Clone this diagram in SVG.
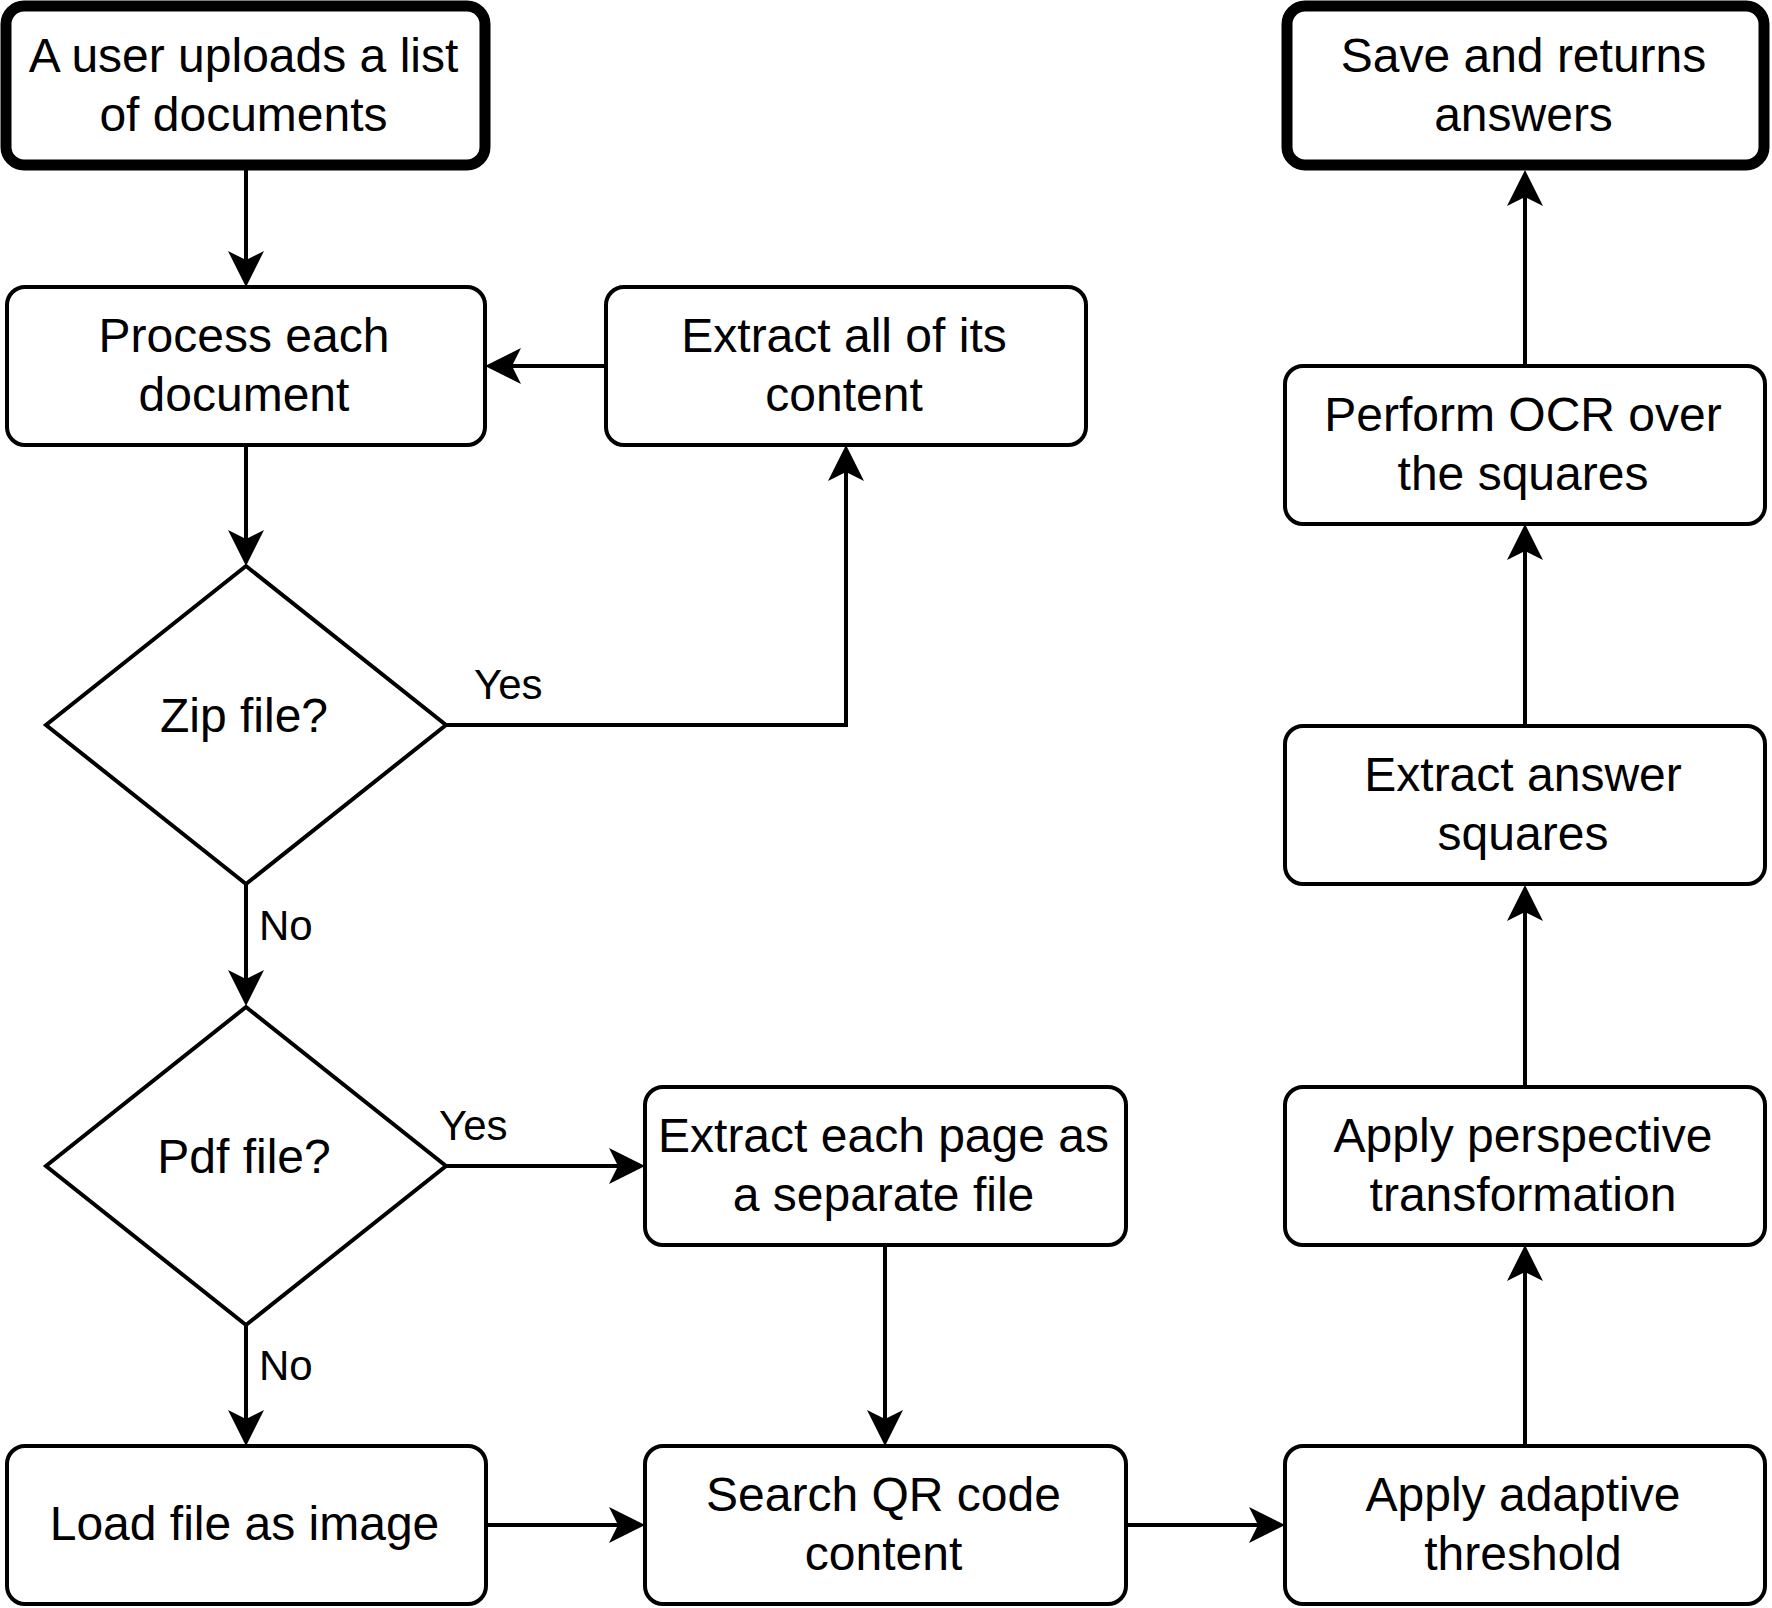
<svg xmlns="http://www.w3.org/2000/svg" width="1772" height="1608" viewBox="0 0 1772 1608">
<style>
.box{fill:#fff;stroke:#000;stroke-width:4}
.term{fill:#fff;stroke:#000;stroke-width:11}
.t{font-family:"Liberation Sans",Arial,sans-serif;font-size:48px;fill:#000;text-anchor:middle}
.lbl{font-family:"Liberation Sans",Arial,sans-serif;font-size:42px;fill:#000}
.edge{fill:none;stroke:#000;stroke-width:4;marker-end:url(#arr)}
</style>
<defs>
<marker id="arr" markerUnits="userSpaceOnUse" markerWidth="40" markerHeight="40" viewBox="0 -20 40 40" refX="9" refY="0" orient="auto">
<path d="M36,0 L0,-18 L9,0 L0,18 Z" fill="#000"/>
</marker>
</defs>
<rect width="1772" height="1608" fill="#fff"/>
<g id="connectors">
<path class="edge" d="M246,170 V260"/>
<path class="edge" d="M606,366 H512"/>
<path class="edge" d="M246,445 V539"/>
<path class="edge" d="M446,725 H846 V472"/>
<path class="edge" d="M246,885 V979"/>
<path class="edge" d="M446,1166 H618"/>
<path class="edge" d="M246,1325 V1419"/>
<path class="edge" d="M486,1525 H618"/>
<path class="edge" d="M885,1245 V1419"/>
<path class="edge" d="M1126,1525 H1258"/>
<path class="edge" d="M1525,1446 V1272"/>
<path class="edge" d="M1525,1087 V912"/>
<path class="edge" d="M1525,726 V551"/>
<path class="edge" d="M1525,366 V197"/>
<text class="lbl" x="474" y="699">Yes</text>
<text class="lbl" x="259" y="940">No</text>
<text class="lbl" x="439" y="1140">Yes</text>
<text class="lbl" x="259" y="1380">No</text>
</g>
<g id="start">
<rect class="term" x="6" y="6" width="479" height="159" rx="18"/>
<text class="t" x="243.5" y="72">A user uploads a list</text>
<text class="t" x="243.5" y="131">of documents</text>
</g>
<g id="process">
<rect class="box" x="7" y="287" width="478" height="158" rx="18"/>
<text class="t" x="244" y="352">Process each</text>
<text class="t" x="244" y="411">document</text>
</g>
<g id="extractAll">
<rect class="box" x="606" y="287" width="480" height="158" rx="18"/>
<text class="t" x="844" y="352">Extract all of its</text>
<text class="t" x="844" y="411">content</text>
</g>
<g id="zip">
<polygon class="box" points="246,566 446,725 246,884 46,725"/>
<text class="t" x="244" y="732">Zip file?</text>
</g>
<g id="pdf">
<polygon class="box" points="246,1007 446,1166 246,1325 46,1166"/>
<text class="t" x="244" y="1173">Pdf file?</text>
</g>
<g id="extractPage">
<rect class="box" x="645" y="1087" width="481" height="158" rx="18"/>
<text class="t" x="883.5" y="1152">Extract each page as</text>
<text class="t" x="883.5" y="1211">a separate file</text>
</g>
<g id="load">
<rect class="box" x="7" y="1446" width="479" height="158" rx="18"/>
<text class="t" x="244.5" y="1540">Load file as image</text>
</g>
<g id="search">
<rect class="box" x="645" y="1446" width="481" height="158" rx="18"/>
<text class="t" x="883.5" y="1511">Search QR code</text>
<text class="t" x="883.5" y="1570">content</text>
</g>
<g id="adaptive">
<rect class="box" x="1285" y="1446" width="480" height="158" rx="18"/>
<text class="t" x="1523" y="1511">Apply adaptive</text>
<text class="t" x="1523" y="1570">threshold</text>
</g>
<g id="perspective">
<rect class="box" x="1285" y="1087" width="480" height="158" rx="18"/>
<text class="t" x="1523" y="1152">Apply perspective</text>
<text class="t" x="1523" y="1211">transformation</text>
</g>
<g id="extractAnswer">
<rect class="box" x="1285" y="726" width="480" height="158" rx="18"/>
<text class="t" x="1523" y="791">Extract answer</text>
<text class="t" x="1523" y="850">squares</text>
</g>
<g id="ocr">
<rect class="box" x="1285" y="366" width="480" height="158" rx="18"/>
<text class="t" x="1523" y="431">Perform OCR over</text>
<text class="t" x="1523" y="490">the squares</text>
</g>
<g id="save">
<rect class="term" x="1287" y="6" width="477" height="159" rx="18"/>
<text class="t" x="1523.5" y="72">Save and returns</text>
<text class="t" x="1523.5" y="131">answers</text>
</g>
</svg>
